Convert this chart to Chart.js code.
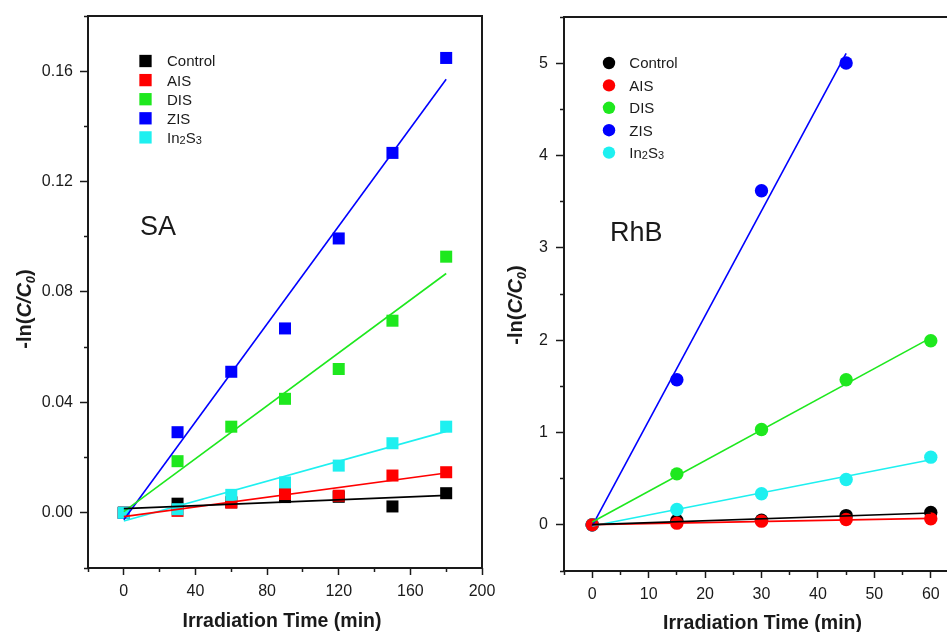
<!DOCTYPE html>
<html>
<head>
<meta charset="utf-8">
<script src="https://cdn.jsdelivr.net/npm/chart.js@4.4.1/dist/chart.umd.min.js"></script>
<style>
  html, body { margin: 0; padding: 0; background: #fff; overflow: hidden; }
  #wrap { position: relative; width: 947px; height: 632px; overflow: hidden; background: #fff; }
  canvas { position: absolute; top: 0; }
  #saCanvas { left: 0; }
  #rhbCanvas { left: 500px; }
</style>
</head>
<body>
<div id="wrap">
  <canvas id="saCanvas" width="500" height="632"></canvas>
  <canvas id="rhbCanvas" width="480" height="632"></canvas>
</div>
<script>
// ---- shared series ----
const seriesNames  = ['Control', 'AIS', 'DIS', 'ZIS', 'In₂S₃'];
const seriesColors = ['#000000', '#ff0000', '#1ee81e', '#0000ff', '#1ef0f0'];

// ---- SA panel (time in min, -ln(C/C0)) ----
const saTimes   = [0, 30, 60, 90, 120, 150, 180];
const saControl = [0, 0.0033, 0.0038, 0.0057, 0.0058, 0.0023, 0.0071];
const saAIS     = [0, 0.0007, 0.0037, 0.0068, 0.0062, 0.0135, 0.0147];
const saDIS     = [0, 0.0187, 0.0312, 0.0413, 0.0521, 0.0696, 0.0928];
const saZIS     = [0, 0.0292, 0.0511, 0.0668, 0.0994, 0.1304, 0.1648];
const saIn2S3   = [0, 0.0013, 0.0065, 0.0110, 0.0171, 0.0252, 0.0312];
// linear fits: value at the first and last fit time
const saFitTimes   = [0, 180];
const saFitControl = [0.0015, 0.0063];
const saFitAIS     = [-0.0014, 0.0144];
const saFitDIS     = [0.0004, 0.0867];
const saFitZIS     = [-0.0025, 0.1571];
const saFitIn2S3   = [-0.0030, 0.0295];
const saTimeTicks   = [0, 40, 80, 120, 160, 200];
const saTimeMinor   = [-20, 20, 60, 100, 140, 180];
const saValueTicks  = [0, 0.04, 0.08, 0.12, 0.16];
const saValueMinor  = [-0.02, 0.02, 0.06, 0.10, 0.14, 0.18];

// ---- RhB panel ----
const rhbTimes   = [0, 15, 30, 45, 60];
const rhbControl = [0, 0.047, 0.050, 0.100, 0.133];
const rhbAIS     = [0, 0.018, 0.040, 0.057, 0.065];
const rhbDIS     = [0, 0.552, 1.032, 1.571, 1.993];
const rhbZIS     = [0, 1.571, 3.619, 5.001];
const rhbIn2S3   = [0, 0.166, 0.336, 0.491, 0.733];
const rhbFitTimes    = [0, 60];
const rhbFitTimesZIS = [0, 45];
const rhbFitControl = [0.002, 0.128];
const rhbFitAIS     = [0.002, 0.070];
const rhbFitDIS     = [0.030, 2.025];
const rhbFitZIS     = [-0.010, 5.105];
const rhbFitIn2S3   = [-0.013, 0.705];
const rhbTimeTicks  = [0, 10, 20, 30, 40, 50, 60];
const rhbTimeMinor  = [-5, 5, 15, 25, 35, 45, 55, 65];
const rhbValueTicks = [0, 1, 2, 3, 4, 5];
const rhbValueMinor = [-0.5, 0.5, 1.5, 2.5, 3.5, 4.5, 5.5];

const FAMILY = "'Liberation Sans', Arial, sans-serif";
const INK = '#1a1a1a';
Chart.defaults.font.family = FAMILY;
Chart.defaults.color = INK;

// draws a run of text pieces (italic / subscript) centred on (cx, cy)
function drawRich(ctx, parts, size, weight, cx, cy) {
  const fontFor = p => `${p.italic ? 'italic ' : ''}${weight} ${p.sub ? Math.round(size * 0.64) : size}px ${FAMILY}`;
  const widths = parts.map(p => { ctx.font = fontFor(p); return ctx.measureText(p.text).width; });
  const total = widths.reduce((a, b) => a + b, 0);
  let x = cx - total / 2;
  ctx.textAlign = 'left';
  ctx.textBaseline = 'alphabetic';
  const base = cy + size * 0.36;
  parts.forEach((p, i) => {
    ctx.font = fontFor(p);
    ctx.fillText(p.text, x, base + (p.sub ? size * 0.2 : 0));
    x += widths[i];
  });
}

// left-aligned label where unicode subscript digits are drawn small
function drawLabel(ctx, text, size, x, y) {
  const parts = [];
  for (const ch of text) {
    const code = ch.charCodeAt(0);
    if (code >= 0x2080 && code <= 0x2089) parts.push({ text: String(code - 0x2080), sub: true });
    else parts.push({ text: ch, sub: false });
  }
  let cx = x;
  ctx.textAlign = 'left';
  ctx.textBaseline = 'alphabetic';
  const base = y + size * 0.36;
  parts.forEach(p => {
    ctx.font = `${p.sub ? Math.round(size * 0.7) : size}px ${FAMILY}`;
    ctx.fillText(p.text, cx, base + (p.sub ? size * 0.08 : 0));
    cx += ctx.measureText(p.text).width;
  });
}

const yTitleParts = [
  { text: '-ln(' }, { text: 'C/C', italic: true }, { text: '0', italic: true, sub: true }, { text: ')' }
];

function panelDecor(cfg) {
  return {
    id: 'panelDecor',
    afterDraw(chart) {
      const ctx = chart.ctx;
      const a = chart.chartArea;
      ctx.save();
      // frame
      ctx.strokeStyle = INK;
      ctx.lineWidth = 2;
      ctx.strokeRect(a.left, a.top, a.right - a.left, a.bottom - a.top);
      ctx.fillStyle = INK;
      // axis titles
      drawRich(ctx, [{ text: 'Irradiation Time (min)' }], 19.5, 'bold', cfg.xTitle[0], cfg.xTitle[1]);
      ctx.save();
      ctx.translate(cfg.yTitle[0], cfg.yTitle[1]);
      ctx.rotate(-Math.PI / 2);
      drawRich(ctx, yTitleParts, 20, 'bold', 0, 0);
      ctx.restore();
      // panel name
      ctx.font = `27px ${FAMILY}`;
      ctx.textAlign = 'left';
      ctx.textBaseline = 'middle';
      ctx.fillText(cfg.name, cfg.namePos[0], cfg.namePos[1]);
      // legend
      seriesNames.forEach((n, i) => {
        const y = cfg.legend.y0 + i * cfg.legend.step;
        ctx.fillStyle = seriesColors[i];
        Chart.helpers.drawPoint(ctx, { pointStyle: cfg.marker, radius: cfg.legend.radius, borderWidth: 0, rotation: 0 }, cfg.legend.mx, y);
        ctx.fillStyle = INK;
        drawLabel(ctx, n, 15, cfg.legend.tx, y);
      });
      ctx.restore();
    }
  };
}

function fixedTicks(list) {
  return scale => { scale.ticks = list.map(v => ({ value: v })); };
}

function makePanel(canvas, cfg) {
  const datasets = [];
  cfg.fits.forEach((f, i) => datasets.push({
    label: seriesNames[i] + ' fit',
    data: f.t.map((t, k) => ({ x: t, y: f.v[k] })),
    showLine: true,
    borderColor: seriesColors[i],
    borderWidth: 1.6,
    pointRadius: 0,
    fill: false,
    order: 0
  }));
  cfg.series.forEach((vals, i) => datasets.push({
    label: seriesNames[i],
    data: vals.map((v, k) => ({ x: cfg.times[k], y: v })),
    pointStyle: cfg.marker,
    pointRadius: cfg.radius,
    pointHoverRadius: cfg.radius,
    pointBackgroundColor: seriesColors[i],
    pointBorderColor: seriesColors[i],
    pointBorderWidth: 0,
    order: cfg.order[i]
  }));

  const tickGrid = len => ({
    display: true, drawOnChartArea: false, drawTicks: true,
    tickLength: len, tickWidth: 1.5, tickColor: INK
  });
  // the plot box is fixed by the layout padding, so no room is reserved for edge labels
  const noEdgePad = s => { s.paddingLeft = 0; s.paddingRight = 0; s.paddingTop = 0; s.paddingBottom = 0; };

  return new Chart(canvas, {
    type: 'scatter',
    data: { datasets },
    options: {
      responsive: false,
      animation: false,
      devicePixelRatio: 1,
      events: [],
      layout: { padding: cfg.padding },
      plugins: { legend: { display: false }, tooltip: { enabled: false } },
      scales: {
        x: {
          type: 'linear', axis: 'x', position: 'bottom', weight: 1,
          min: cfg.xRange[0], max: cfg.xRange[1],
          afterBuildTicks: fixedTicks(cfg.xTicks),
          afterFit: s => { s.height = cfg.xHeight; noEdgePad(s); },
          grid: tickGrid(7), border: { display: false },
          ticks: { autoSkip: false, maxRotation: 0, padding: 7, font: { size: 16 }, color: INK,
                   callback: v => String(v) }
        },
        xMinor: {
          type: 'linear', axis: 'x', position: 'bottom', weight: 0,
          min: cfg.xRange[0], max: cfg.xRange[1],
          afterBuildTicks: fixedTicks(cfg.xMinor),
          afterFit: s => { s.height = 0; noEdgePad(s); },
          grid: tickGrid(4), border: { display: false },
          ticks: { display: false }
        },
        y: {
          type: 'linear', axis: 'y', position: 'left', weight: 1,
          min: cfg.yRange[0], max: cfg.yRange[1],
          afterBuildTicks: fixedTicks(cfg.yTicks),
          afterFit: s => { s.width = cfg.yWidth; noEdgePad(s); },
          grid: tickGrid(8), border: { display: false },
          ticks: { autoSkip: false, padding: cfg.yPad, font: { size: 16 }, color: INK,
                   callback: cfg.yFormat }
        },
        yMinor: {
          type: 'linear', axis: 'y', position: 'left', weight: 0,
          min: cfg.yRange[0], max: cfg.yRange[1],
          afterBuildTicks: fixedTicks(cfg.yMinor),
          afterFit: s => { s.width = 0; noEdgePad(s); },
          grid: tickGrid(4), border: { display: false },
          ticks: { display: false }
        }
      }
    },
    plugins: [panelDecor(cfg)]
  });
}

makePanel(document.getElementById('saCanvas'), {
  name: 'SA', namePos: [140, 228],
  marker: 'rect', radius: 8.5,
  times: saTimes,
  series: [saControl, saAIS, saDIS, saZIS, saIn2S3],
  order: [5, 4, 3, 2, 1],
  fits: [
    { t: saFitTimes, v: saFitControl }, { t: saFitTimes, v: saFitAIS }, { t: saFitTimes, v: saFitDIS },
    { t: saFitTimes, v: saFitZIS }, { t: saFitTimes, v: saFitIn2S3 }
  ],
  xRange: [-20, 200], yRange: [-0.02, 0.18],
  xTicks: saTimeTicks, xMinor: saTimeMinor, yTicks: saValueTicks, yMinor: saValueMinor,
  yFormat: v => v.toFixed(2),
  padding: { left: 0, top: 16, right: 18, bottom: 0 },
  xHeight: 64, yWidth: 88, yPad: 7,
  xTitle: [282, 620], yTitle: [24, 309],
  legend: { mx: 145.5, tx: 167, y0: 61, step: 19.1, radius: 8.7 }
});

makePanel(document.getElementById('rhbCanvas'), {
  name: 'RhB', namePos: [110, 234],
  marker: 'circle', radius: 6.7,
  times: rhbTimes,
  series: [rhbControl, rhbAIS, rhbDIS, rhbZIS, rhbIn2S3],
  order: [5, 1, 4, 3, 2],
  fits: [
    { t: rhbFitTimes, v: rhbFitControl }, { t: rhbFitTimes, v: rhbFitAIS }, { t: rhbFitTimes, v: rhbFitDIS },
    { t: rhbFitTimesZIS, v: rhbFitZIS }, { t: rhbFitTimes, v: rhbFitIn2S3 }
  ],
  xRange: [-5, 65], yRange: [-0.5, 5.5],
  xTicks: rhbTimeTicks, xMinor: rhbTimeMinor, yTicks: rhbValueTicks, yMinor: rhbValueMinor,
  yFormat: v => String(v),
  padding: { left: 0, top: 17, right: 21, bottom: 0 },
  xHeight: 61, yWidth: 64, yPad: 8,
  xTitle: [262.5, 622], yTitle: [15, 305],
  legend: { mx: 109, tx: 129.3, y0: 63, step: 22.4, radius: 6.2 }
});
</script>
</body>
</html>
